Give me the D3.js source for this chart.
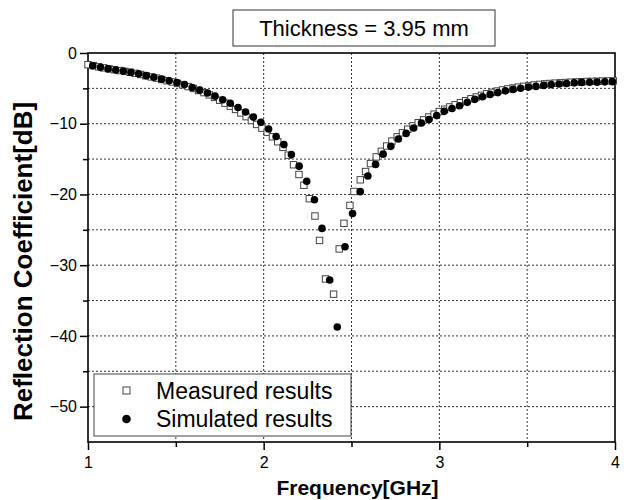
<!DOCTYPE html>
<html>
<head>
<meta charset="utf-8">
<script src="https://cdn.jsdelivr.net/npm/d3@7"></script>
<style>
  body { margin: 0; background: #fff; }
  text { font-family: "Liberation Sans", Arial, sans-serif; fill: #000; }
</style>
</head>
<body>
<div id="chart"></div>
<script>
// values
var simFreq = [1.027, 1.071, 1.114, 1.158, 1.201, 1.245, 1.288, 1.332, 1.375, 1.419,
  1.462, 1.506, 1.549, 1.593, 1.636, 1.680, 1.723, 1.767, 1.810, 1.854,
  1.897, 1.941, 1.984, 2.028, 2.071, 2.115, 2.158, 2.202, 2.245, 2.289,
  2.332, 2.376, 2.419, 2.463, 2.506, 2.550, 2.593, 2.637, 2.680, 2.724,
  2.767, 2.811, 2.854, 2.898, 2.941, 2.985, 3.028, 3.072, 3.115, 3.159,
  3.202, 3.246, 3.289, 3.333, 3.376, 3.420, 3.463, 3.507, 3.550, 3.594,
  3.637, 3.681, 3.724, 3.768, 3.811, 3.855, 3.898, 3.942, 3.985];
var simDb = [-1.80, -2.03, -2.24, -2.40, -2.56, -2.74, -2.95, -3.20, -3.42, -3.70,
  -3.93, -4.18, -4.47, -4.87, -5.25, -5.65, -6.10, -6.60, -7.10, -7.70,
  -8.35, -9.06, -9.80, -10.75, -11.80, -12.95, -14.35, -16.00, -18.13, -20.75,
  -24.80, -32.10, -38.73, -27.40, -22.70, -19.60, -17.40, -15.75, -14.30, -13.20,
  -12.15, -11.37, -10.60, -9.90, -9.40, -8.85, -8.25, -7.85, -7.45, -6.98,
  -6.55, -6.18, -5.85, -5.60, -5.35, -5.15, -4.98, -4.82, -4.72, -4.58,
  -4.47, -4.38, -4.32, -4.22, -4.16, -4.13, -4.12, -4.08, -4.05];

var measFreq = [1.00, 1.03, 1.06, 1.09, 1.12, 1.15, 1.18, 1.21, 1.24, 1.27,
  1.30, 1.33, 1.36, 1.39, 1.42, 1.45, 1.48, 1.51, 1.54, 1.57,
  1.60, 1.63, 1.66, 1.69, 1.72, 1.75, 1.78, 1.81, 1.84, 1.87,
  1.90, 1.93, 1.96, 1.99, 2.02, 2.05, 2.08, 2.11, 2.14, 2.17,
  2.201, 2.229, 2.260, 2.292, 2.318, 2.352, 2.398, 2.430, 2.457, 2.491,
  2.514, 2.550, 2.580, 2.608, 2.641, 2.67, 2.70, 2.73, 2.76, 2.79,
  2.82, 2.85, 2.88, 2.91, 2.94, 2.97, 3.00, 3.03, 3.06, 3.09,
  3.12, 3.15, 3.18, 3.21, 3.24, 3.27, 3.30, 3.33, 3.36, 3.39,
  3.42, 3.45, 3.48, 3.51, 3.54, 3.57, 3.60, 3.63, 3.66, 3.69,
  3.72, 3.75, 3.78, 3.81, 3.84, 3.87, 3.90, 3.93, 3.96, 3.99];
var measDb = [-1.65, -1.78, -1.95, -2.10, -2.24, -2.36, -2.48, -2.60, -2.73, -2.88,
  -3.04, -3.22, -3.38, -3.55, -3.75, -3.92, -4.10, -4.30, -4.50, -4.75,
  -5.02, -5.30, -5.60, -5.92, -6.28, -6.68, -7.10, -7.52, -7.98, -8.48,
  -9.00, -9.55, -10.10, -10.62, -11.20, -11.85, -12.55, -13.35, -14.45, -15.80,
  -17.18, -18.70, -20.60, -23.05, -26.50, -31.95, -34.10, -27.70, -24.08, -21.55,
  -19.58, -17.93, -16.76, -15.63, -14.69, -13.90, -13.15, -12.45, -11.85, -11.28,
  -10.78, -10.30, -9.86, -9.45, -9.05, -8.65, -8.28, -7.95, -7.62, -7.32,
  -7.02, -6.74, -6.47, -6.22, -5.98, -5.76, -5.56, -5.38, -5.22, -5.07,
  -4.94, -4.82, -4.71, -4.61, -4.52, -4.44, -4.37, -4.31, -4.26, -4.21,
  -4.17, -4.13, -4.09, -4.06, -4.03, -4.01, -3.99, -3.97, -3.95, -3.94];

var xTicks = [1, 2, 3, 4];
var xMinorTicks = [1.5, 2.5, 3.5];
var yTicks = [0, -10, -20, -30, -40, -50];
var yMinorTicks = [-5, -15, -25, -35, -45];
var legendLabels = ["Measured results", "Simulated results"];
var titleText = "Thickness = 3.95 mm";

var width = 624, height = 500;
var margin = {top: 53, right: 9, bottom: 58, left: 88};
var chartWidth = width - margin.left - margin.right;
var chartHeight = height - margin.top - margin.bottom;

var svg = d3.select("#chart").append("svg")
  .attr("width", width)
  .attr("height", height);

var g = svg.append("g")
  .attr("transform", `translate(${margin.left},${margin.top})`);

var xScale = d3.scaleLinear().domain([1, 4]).range([0, chartWidth]);
var yScale = d3.scaleLinear().domain([0, -55]).range([0, chartHeight]);

// dotted grid
var gridX = xMinorTicks.concat([2, 3]);
var gridY = yMinorTicks.concat([-10, -20, -30, -40, -50]);
g.append("g").selectAll("line").data(gridX).enter().append("line")
  .attr("x1", d => xScale(d)).attr("x2", d => xScale(d))
  .attr("y1", 0).attr("y2", chartHeight)
  .attr("stroke", "#333").attr("stroke-width", 1).attr("stroke-dasharray", "2,2");
g.append("g").selectAll("line").data(gridY).enter().append("line")
  .attr("x1", 0).attr("x2", chartWidth)
  .attr("y1", d => yScale(d)).attr("y2", d => yScale(d))
  .attr("stroke", "#333").attr("stroke-width", 1).attr("stroke-dasharray", "2,2");

// axes
var xAxis = d3.axisBottom(xScale).tickValues(xTicks).tickSize(8).tickFormat(d3.format("d"));
var xAxisMinor = d3.axisBottom(xScale).tickValues(xMinorTicks).tickSize(5).tickFormat("");
var yAxis = d3.axisLeft(yScale).tickValues(yTicks).tickSize(8).tickFormat(d3.format("d"));
var yAxisMinor = d3.axisLeft(yScale).tickValues(yMinorTicks).tickSize(5).tickFormat("");

g.append("g").attr("class", "x axis")
  .attr("transform", `translate(0,${chartHeight})`)
  .call(xAxis);
g.append("g").attr("class", "x axis")
  .attr("transform", `translate(0,${chartHeight})`)
  .call(xAxisMinor);
g.append("g").attr("class", "y axis").call(yAxis);
g.append("g").attr("class", "y axis").call(yAxisMinor);

g.selectAll(".axis .domain").remove();
g.selectAll(".axis line").attr("stroke", "#000").attr("stroke-width", 1.5);
g.selectAll(".axis text")
  .style("font-size", "16px")
  .style("font-family", "'Liberation Sans', Arial, sans-serif");
g.selectAll(".x.axis text").attr("dy", "0.95em");

// frame
g.append("rect")
  .attr("x", 0).attr("y", 0)
  .attr("width", chartWidth).attr("height", chartHeight)
  .attr("fill", "none").attr("stroke", "#000").attr("stroke-width", 1.6);

// measured: open squares
var meas = measFreq.map((f, i) => ({f: f, v: measDb[i]}));
var sim = simFreq.map((f, i) => ({f: f, v: simDb[i]}));

g.append("g").selectAll("rect").data(meas).enter().append("rect")
  .attr("x", d => xScale(d.f) - 3.2)
  .attr("y", d => yScale(d.v) - 3.2)
  .attr("width", 6.4).attr("height", 6.4)
  .attr("fill", "#fff").attr("stroke", "#444").attr("stroke-width", 1);

// simulated: filled circles
g.append("g").selectAll("circle").data(sim).enter().append("circle")
  .attr("cx", d => xScale(d.f))
  .attr("cy", d => yScale(d.v))
  .attr("r", 3.8)
  .attr("fill", "#000");

// legend
var legend = svg.append("g").attr("transform", "translate(94,374)");
legend.append("rect")
  .attr("width", 257).attr("height", 62)
  .attr("fill", "#fff").attr("stroke", "#444").attr("stroke-width", 1);
legend.append("rect")
  .attr("x", 29).attr("y", 13).attr("width", 7).attr("height", 7)
  .attr("fill", "#fff").attr("stroke", "#444");
legend.append("circle")
  .attr("cx", 32.5).attr("cy", 45).attr("r", 4.3).attr("fill", "#000");
legend.selectAll("text.lab").data(legendLabels).enter().append("text")
  .attr("class", "lab")
  .attr("x", 62)
  .attr("y", (d, i) => 25 + i * 28)
  .style("font-size", "23px")
  .text(d => d);

// title box
var tb = svg.append("g");
tb.append("rect")
  .attr("x", 233).attr("y", 10).attr("width", 262).attr("height", 36)
  .attr("fill", "#fff").attr("stroke", "#333").attr("stroke-width", 1);
tb.append("text")
  .attr("x", 364).attr("y", 36)
  .attr("text-anchor", "middle")
  .style("font-size", "22px")
  .text(titleText);

// axis titles
svg.append("text")
  .attr("x", margin.left + chartWidth / 2 + 6)
  .attr("y", 495)
  .attr("text-anchor", "middle")
  .style("font-size", "21px").style("font-weight", "bold")
  .text("Frequency[GHz]");
svg.append("text")
  .attr("transform", `translate(32,${margin.top + chartHeight / 2 + 14}) rotate(-90)`)
  .attr("text-anchor", "middle")
  .style("font-size", "26px").style("font-weight", "bold")
  .text("Reflection Coefficient[dB]");
</script>
</body>
</html>
